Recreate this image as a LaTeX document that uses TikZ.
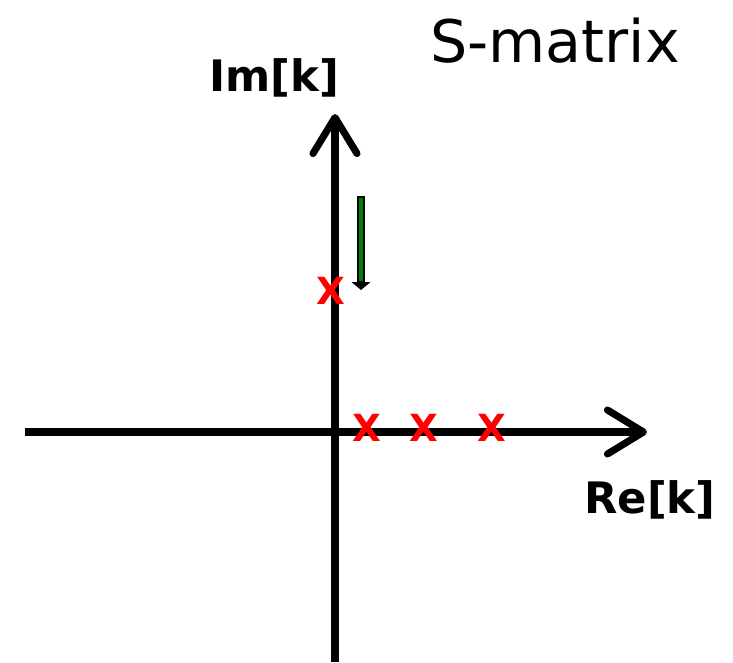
\documentclass[tikz,border=0pt]{standalone}
\usepackage{fontspec}
\setmainfont{DejaVu Sans}
\usetikzlibrary{positioning, arrows.meta}

\begin{document}
\begin{tikzpicture}[
    x=0.75pt, y=-0.75pt,
    axis/.style={line width=5.3pt, -{Straight Barb[length=27pt, width=33pt, line cap=round, line join=round]}},
    pole/.style={text=red, font=\fontsize{28}{28}\selectfont\bfseries, inner sep=0pt},
    axlabel/.style={font=\fontsize{32.5}{32.5}\selectfont\bfseries, inner sep=0pt, anchor=base west}
]
\path[use as bounding box] (0,0) rectangle (733,662);

% Axes
\coordinate (xl) at (25,432);
\coordinate (xr) at (647,432);
\coordinate (yb) at (335,662);
\coordinate (yt) at (335,114);
\draw[axis] (xl) -- (xr);
\draw[axis] (yb) -- (yt);

% Labels
\node[axlabel] (im) at (209,91) {Im[k]};
\node[axlabel] (re) at (584,513) {Re[k]};
\node[font=\fontsize{44}{44}\selectfont, inner sep=0pt, anchor=base west] (title) at (430,62) {S-matrix};

% Poles
\node[pole] (p0) at (331,291) {X};
\node[pole] (p1) at (367,428) {X};
\node[pole] (p2) at (424,428) {X};
\node[pole] (p3) at (492,428) {X};

% Green arrow: bound state moving down
\coordinate (g1) at (361,196);
\coordinate (g2) at (361,290);
\draw[line width=6.5pt, -{Triangle[length=6pt, width=14pt]}] (g1) -- (g2);
\draw[line width=3.5pt, green!50!black, shorten <=1.5pt, shorten >=7pt] (g1) -- (g2);
\end{tikzpicture}
\end{document}
